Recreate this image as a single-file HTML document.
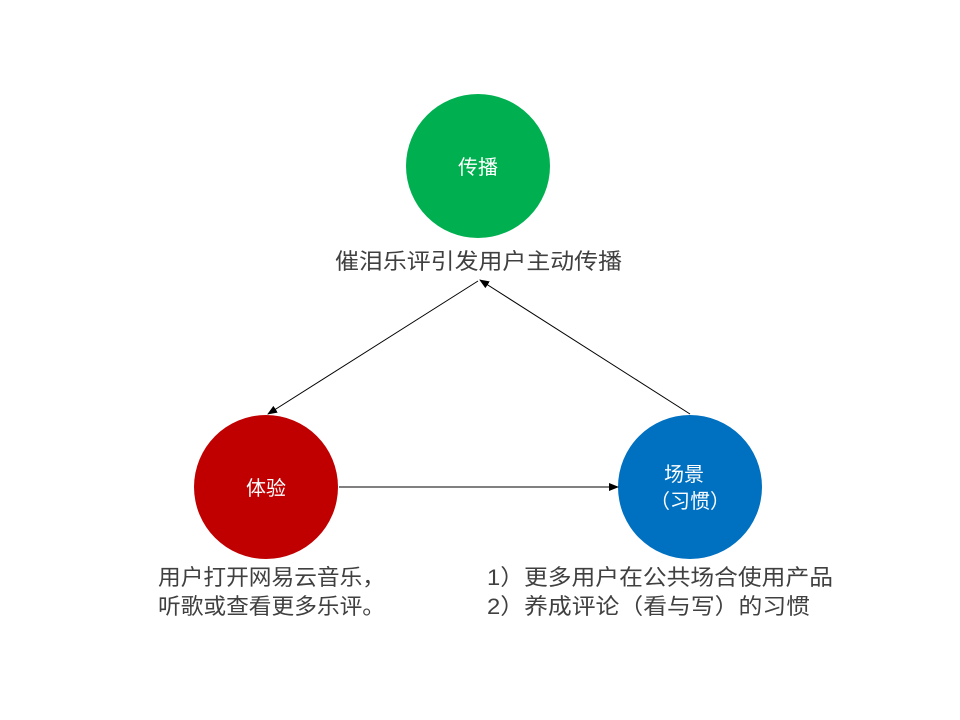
<!DOCTYPE html>
<html><head><meta charset="utf-8"><style>
html,body{margin:0;padding:0;background:#fff}
svg{display:block}
text{font-family:"Liberation Sans","Noto Sans CJK SC",sans-serif}
</style></head><body>
<svg width="960" height="720" viewBox="0 0 960 720" xmlns="http://www.w3.org/2000/svg">
<defs>
<marker id="a" markerWidth="10" markerHeight="8" refX="9" refY="4" orient="auto" markerUnits="userSpaceOnUse">
<path d="M0,0 L10,4 L0,8 z" fill="#000"/></marker>
</defs>
<circle cx="478" cy="166" r="72" fill="#00b050"/>
<circle cx="266" cy="487" r="72" fill="#c00000"/>
<circle cx="690" cy="487" r="72" fill="#0070c0"/>
<text x="478" y="174" font-size="20" fill="#fff" text-anchor="middle">传播</text>
<text x="266" y="495" font-size="20" fill="#fff" text-anchor="middle">体验</text>
<text x="684" y="481" font-size="20" fill="#fff" text-anchor="middle">场景</text>
<text x="690" y="508" font-size="20" fill="#fff" text-anchor="middle">（习惯）</text>
<text x="335" y="269" font-size="22" fill="#404040" textLength="287" lengthAdjust="spacingAndGlyphs">催泪乐评引发用户主动传播</text>
<text x="158" y="585" font-size="22" fill="#404040" textLength="227" lengthAdjust="spacingAndGlyphs">用户打开网易云音乐，</text>
<text x="158" y="614" font-size="22" fill="#404040" textLength="227" lengthAdjust="spacingAndGlyphs">听歌或查看更多乐评。</text>
<text x="487" y="585" font-size="22" fill="#404040" textLength="346" lengthAdjust="spacingAndGlyphs">1）更多用户在公共场合使用产品</text>
<text x="487" y="614" font-size="22" fill="#404040" textLength="323" lengthAdjust="spacingAndGlyphs">2）养成评论（看与写）的习惯</text>
<line x1="478" y1="281" x2="268" y2="414" stroke="#000" stroke-width="1" marker-end="url(#a)"/>
<line x1="690" y1="414" x2="480" y2="280" stroke="#000" stroke-width="1" marker-end="url(#a)"/>
<line x1="339" y1="487" x2="618" y2="487" stroke="#000" stroke-width="1" marker-end="url(#a)"/>
</svg>
</body></html>
